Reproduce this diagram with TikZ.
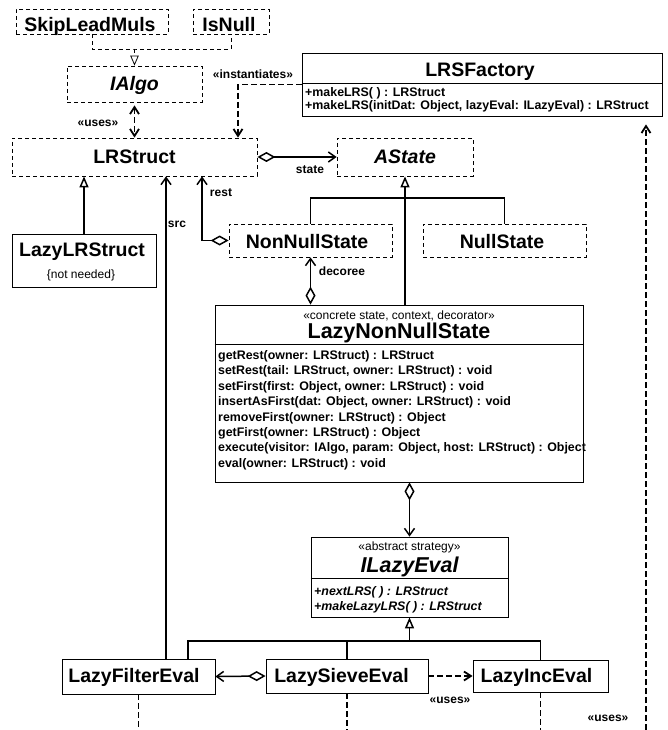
\documentclass[tikz,border=0pt]{standalone}
\usepackage{fontspec}
\setmainfont{Liberation Sans}
\usetikzlibrary{arrows.meta}
\begin{document}
\begin{tikzpicture}[x=1pt,y=-1pt,
  sbox/.style={draw, line width=0.8pt, inner sep=0pt},
  dbox/.style={draw, line width=0.8pt, dash pattern=on 4pt off 3pt, inner sep=0pt},
  ttl/.style={font=\fontsize{19.5}{22}\selectfont\bfseries, inner sep=0pt, anchor=base},
  ittl/.style={font=\fontsize{19.5}{22}\selectfont\bfseries\itshape, inner sep=0pt, anchor=base},
  bigttl/.style={font=\fontsize{21.5}{24}\selectfont\bfseries, inner sep=0pt, anchor=base},
  meth/.style={font=\fontsize{12.4}{15}\selectfont\bfseries, inner sep=0pt, anchor=base west},
  imeth/.style={font=\fontsize{12.4}{15}\selectfont\bfseries\itshape, inner sep=0pt, anchor=base west},
  stereo/.style={font=\fontsize{12}{14}\selectfont, inner sep=0pt, anchor=base},
  lbl/.style={font=\fontsize{12}{14}\selectfont\bfseries, inner sep=0pt},
  conn/.style={line width=1.5pt},
  nav/.style={conn, arrows={-Straight Barb[length=7pt,width=10pt]}},
  gen/.style={conn, arrows={-Triangle[open,length=11pt,width=9pt]}},
  agg/.style={conn, arrows={Diamond[open,length=18pt,width=10pt]-Straight Barb[length=7pt,width=10pt]}},
  dep/.style={line width=1.8pt, dash pattern=on 6pt off 3pt},
  real/.style={line width=0.8pt, dash pattern=on 4pt off 3pt}
]
\useasboundingbox (0,0) rectangle (667,730);

% ---------- boxes ----------
\node[dbox, minimum width=152pt, minimum height=25pt] (skip) at (92,21.5) {};
\node[dbox, minimum width=76pt, minimum height=25pt] (isnull) at (231,21.5) {};
\node[dbox, minimum width=135pt, minimum height=36pt] (ialgo) at (134.5,84) {};
\node[sbox, minimum width=360pt, minimum height=63pt] (lrsf) at (482,84.5) {};
\node[dbox, minimum width=245pt, minimum height=38pt] (lrs) at (134.5,157) {};
\node[dbox, minimum width=136pt, minimum height=38pt] (astate) at (405,157) {};
\node[sbox, minimum width=144pt, minimum height=53pt] (lazylrs) at (84,260.5) {};
\node[dbox, minimum width=163pt, minimum height=33pt] (nonnull) at (310.5,240.5) {};
\node[dbox, minimum width=163pt, minimum height=33pt] (nullst) at (504.5,240.5) {};
\node[sbox, minimum width=368pt, minimum height=177pt] (lnns) at (399,393.5) {};
\node[sbox, minimum width=197pt, minimum height=80pt] (ilazy) at (409.5,577) {};
\node[sbox, minimum width=153pt, minimum height=35pt] (filter) at (138.5,676.5) {};
\node[sbox, minimum width=162pt, minimum height=34pt] (sieve) at (347,676) {};
\node[sbox, minimum width=135pt, minimum height=32pt] (inc) at (540.5,676) {};

% ---------- texts ----------
\node[ttl] (tskip) at (90,31.5) {SkipLeadMuls};
\node[ttl] (tisnull) at (229,31.5) {IsNull};
\node[ittl] (tialgo) at (134.5,91) {IAlgo};
\node[ttl] (tlrsf) at (480,77) {LRSFactory};
\draw[line width=0.8pt] (lrsf.west |- 0,83) -- (lrsf.east |- 0,83);
\node[meth] (mf1) at (305,96.5) {+makeLRS( ) : LRStruct};
\node[meth] (mf2) at (305,110) {+makeLRS(initDat: Object, lazyEval: ILazyEval) : LRStruct};
\node[ttl] (tlrs) at (134.5,164) {LRStruct};
\node[ittl] (tastate) at (405,164) {AState};
\node[ttl] (tlazylrs) at (82,256) {LazyLRStruct};
\node[stereo] (tnn) at (81,278) {\{not needed\}};
\node[ttl] (tnonnull) at (307,248) {NonNullState};
\node[ttl] (tnullst) at (502,248) {NullState};
\node[stereo] (slnns) at (399,319.5) {«concrete state, context, decorator»};
\node[bigttl] (tlnns) at (399,338) {LazyNonNullState};
\draw[line width=0.8pt] (lnns.west |- 0,344) -- (lnns.east |- 0,344);
\foreach \t [count=\i] in {{getRest(owner: LRStruct) : LRStruct},
  {setRest(tail: LRStruct, owner: LRStruct) : void},
  {setFirst(first: Object, owner: LRStruct) : void},
  {insertAsFirst(dat: Object, owner: LRStruct) : void},
  {removeFirst(owner: LRStruct) : Object},
  {getFirst(owner: LRStruct) : Object},
  {execute(visitor: IAlgo, param: Object, host: LRStruct) : Object},
  {eval(owner: LRStruct) : void}}
  \node[meth] (ml\i) at (218,344.1+15.4*\i) {\t};
\node[stereo] (silazy) at (409.5,550) {«abstract strategy»};
\node[bigttl, font=\fontsize{21.5}{24}\selectfont\bfseries\itshape] (tilazy) at (409.5,572) {ILazyEval};
\draw[line width=0.8pt] (ilazy.west |- 0,578) -- (ilazy.east |- 0,578);
\node[imeth] (mi1) at (314,595.5) {+nextLRS( ) : LRStruct};
\node[imeth] (mi2) at (314,610.5) {+makeLazyLRS( ) : LRStruct};
\node[ttl] (tfilter) at (134,682) {LazyFilterEval};
\node[ttl] (tsieve) at (341.5,682) {LazySieveEval};
\node[ttl] (tinc) at (536.5,682) {LazyIncEval};

% ---------- labels ----------
\node[lbl] (linst) at (253,74) {«instantiates»};
\node[lbl] (luses1) at (98,123) {«uses»};
\node[lbl] (lstate) at (310,170) {state};
\node[lbl] (lrest) at (221,193) {rest};
\node[lbl] (lsrc) at (177,224) {src};
\node[lbl] (ldec) at (342,271) {decoree};
\node[lbl] (luses2) at (450,700) {«uses»};
\node[lbl] (luses3) at (608,718) {«uses»};

% ---------- helper coordinates ----------
\coordinate (j0) at (134.5,49);
\coordinate (j1) at (405,198);
\coordinate (j2) at (409.5,641);
\coordinate (bot) at (0,730);
\coordinate (rb) at (646,730);

% ---------- connectors ----------
\draw[real] (skip.south) |- (j0) -| (isnull.south);
\draw[real, arrows={-Triangle[open,length=10pt,width=8.5pt]}] (j0) -- (ialgo.north);
\draw[dep, arrows={Straight Barb[length=7pt,width=9pt]-Straight Barb[length=7pt,width=9pt]}, shorten <=3pt] (ialgo.south) -- (lrs.north);
\draw[dep, arrows={-Straight Barb[length=7pt,width=9pt]}] (lrsf.west) -| ([xshift=103.5pt]lrs.north);
\draw[agg] (lrs.east) -- (astate.west);
\draw[gen] (lazylrs.north) -- (lazylrs.north |- lrs.south);
\draw[nav] ([xshift=27.5pt]filter.north) -- ([xshift=27.5pt]filter.north |- lrs.south);
\draw[agg] (nonnull.west) -| ([xshift=67.5pt]lrs.south);
\draw[gen] (astate.south |- lnns.north) -- (astate.south);
\draw[conn] (nonnull.north) |- (j1) -| (nullst.north);
\draw[agg] (nonnull.south |- lnns.north) -- (nonnull.south);
\draw[agg] (ilazy.north |- lnns.south) -- (ilazy.north);
\draw[gen] (j2) -- (ilazy.south);
\draw[conn] ([xshift=49.5pt]filter.north) |- (j2) -| (inc.north);
\draw[conn] (sieve.north) -- (sieve.north |- j2);
\draw[agg] (sieve.west) -- (filter.east);
\draw[dep, arrows={-Straight Barb[length=7pt,width=9pt]}] (sieve.east) -- (inc.west);
\draw[dep] (filter.south) -- (filter.south |- bot);
\draw[dep] (sieve.south) -- (sieve.south |- bot);
\draw[dep] (inc.south) -- (inc.south |- bot);
\draw[dep, arrows={-Straight Barb[length=7pt,width=9pt]}, shorten >=8pt] (rb) -- (rb |- lrsf.south);
\end{tikzpicture}
\end{document}
